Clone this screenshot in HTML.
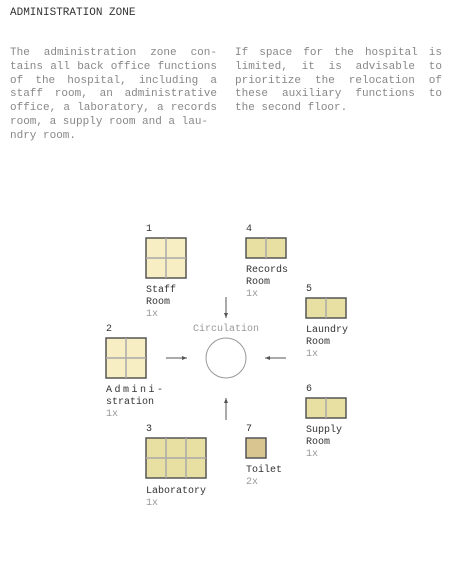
<!DOCTYPE html>
<html><head><meta charset="utf-8"><style>
body{margin:0;width:451px;height:576px;background:#fff;position:relative;overflow:hidden;font-family:"Liberation Mono",monospace}
.t{position:absolute;left:10px;top:7px;font-size:11px;color:#333}
.p{position:absolute;top:47px;width:207px;font-size:11px;line-height:13.8px;color:#888;text-align:justify;text-align-last:left}
.l{position:absolute;font-size:10px;line-height:12px;color:#333;white-space:pre}
.g{color:#999}
</style></head><body>
<div class="t">ADMINISTRATION ZONE</div>
<div class="p" style="left:10px">The administration zone con&shy;tains all back office functions of the hospital, including a staff room, an administrative office, a laboratory, a records room, a supply room and a lau-<br>ndry room.</div>
<div class="p" style="left:235px">If space for the hospital is limited, it is advisable to prioritize the relocation of these auxiliary functions to the second floor.</div>
<svg style="position:absolute;left:0;top:0" width="451" height="576">
<defs><marker id="a" markerWidth="6" markerHeight="6" refX="5" refY="3" orient="auto"><path d="M0,1 L5,3 L0,5z" fill="#555"/></marker></defs>
<g stroke="#aaa" stroke-width="1.5">
<rect x="146" y="238" width="40" height="40" fill="#f7efc3" stroke="#555"/>
<line x1="166" y1="238" x2="166" y2="278"/><line x1="146" y1="258" x2="186" y2="258"/>
<rect x="106" y="338" width="40" height="40" fill="#f7efc3" stroke="#555"/>
<line x1="126" y1="338" x2="126" y2="378"/><line x1="106" y1="358" x2="146" y2="358"/>
<rect x="246" y="238" width="40" height="20" fill="#e8dfa3" stroke="#555"/>
<line x1="266" y1="238" x2="266" y2="258"/>
<rect x="306" y="298" width="40" height="20" fill="#e8dfa3" stroke="#555"/>
<line x1="326" y1="298" x2="326" y2="318"/>
<rect x="306" y="398" width="40" height="20" fill="#e8dfa3" stroke="#555"/>
<line x1="326" y1="398" x2="326" y2="418"/>
<rect x="146" y="438" width="60" height="40" fill="#e8dfa3" stroke="#555"/>
<line x1="166" y1="438" x2="166" y2="478"/><line x1="186" y1="438" x2="186" y2="478"/><line x1="146" y1="458" x2="206" y2="458"/>
<rect x="246" y="438" width="20" height="20" fill="#d8c58f" stroke="#555"/>
</g>
<circle cx="226" cy="358" r="20" fill="none" stroke="#999"/>
<g stroke="#555" stroke-width="1" marker-end="url(#a)">
<line x1="226" y1="297" x2="226" y2="318"/>
<line x1="166" y1="358" x2="187" y2="358"/>
<line x1="286" y1="358" x2="265" y2="358"/>
<line x1="226" y1="420" x2="226" y2="398"/>
</g>
<text x="226" y="331" font-family="Liberation Mono,monospace" font-size="10" fill="#999" text-anchor="middle">Circulation</text>
</svg>
<div class="l" style="left:146px;top:224px">1</div>
<div class="l" style="left:146px;top:285px">Staff
Room
<span class="g">1x</span></div>
<div class="l" style="left:246px;top:224px">4</div>
<div class="l" style="left:246px;top:265px">Records
Room
<span class="g">1x</span></div>
<div class="l" style="left:306px;top:284px">5</div>
<div class="l" style="left:306px;top:325px">Laundry
Room
<span class="g">1x</span></div>
<div class="l" style="left:106px;top:324px">2</div>
<div class="l" style="left:106px;top:385px;letter-spacing:2.5px">Admini-</div>
<div class="l" style="left:106px;top:397px">stration
<span class="g">1x</span></div>
<div class="l" style="left:306px;top:384px">6</div>
<div class="l" style="left:306px;top:425px">Supply
Room
<span class="g">1x</span></div>
<div class="l" style="left:146px;top:424px">3</div>
<div class="l" style="left:146px;top:486px">Laboratory
<span class="g">1x</span></div>
<div class="l" style="left:246px;top:424px">7</div>
<div class="l" style="left:246px;top:465px">Toilet
<span class="g">2x</span></div>
</body></html>
